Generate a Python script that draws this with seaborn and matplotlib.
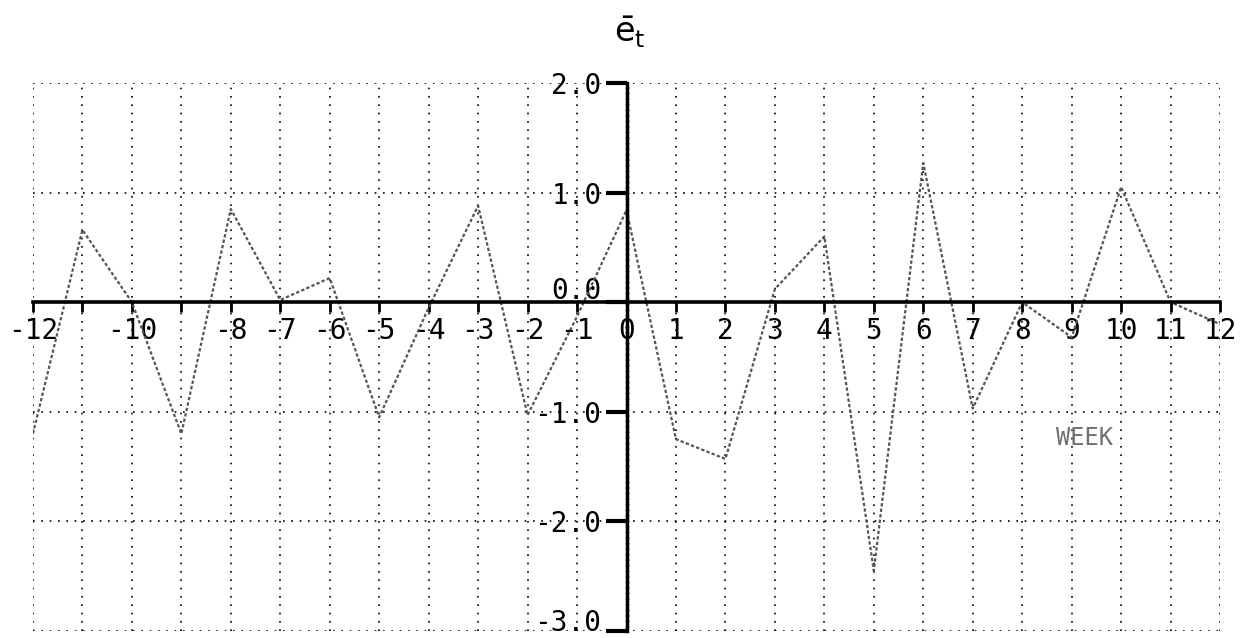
import matplotlib
matplotlib.use('Agg')
import matplotlib.pyplot as plt
from matplotlib.transforms import ScaledTranslation
import seaborn as sns
import pandas as pd

# ---- data ----
weeks = list(range(-12, 13))
e_bar = [-1.2, 0.66, 0.0, -1.2, 0.85, 0.02, 0.22, -1.05, -0.05, 0.88,
         -1.03, -0.13, 0.84, -1.25, -1.43, 0.12, 0.6, -2.45, 1.27, -0.97,
         0.0, -0.32, 1.05, 0.0, -0.2]
xtick_values = list(range(-12, 13))
xtick_labels = ['-12', '', '-10', '', '-8', '-7', '-6', '-5', '-4', '-3', '-2', '-1',
                '0', '1', '2', '3', '4', '5', '6', '7', '8', '9', '10', '11', '12']
ytick_values = [2.0, 1.0, 0.0, -1.0, -2.0, -3.0]
ytick_labels = ['2.0', '1.0', '0.0', '-1.0', '-2.0', '-3.0']
x_title = 'WEEK'
y_title = r'$\bar{\mathrm{e}}_{\mathrm{t}}$'

sns.set_theme(style='white')
plt.rcParams['font.family'] = ['DejaVu Sans Mono']

fig = plt.figure(figsize=(12.53, 6.38), dpi=100)
ax = fig.add_axes([0.0263, 0.011, 0.9474, 0.8589])

df = pd.DataFrame({'week': weeks, 'e': e_bar})
sns.lineplot(data=df, x='week', y='e', ax=ax, color='#555555', lw=1.6,
             linestyle=(0, (1.5, 1)))

ax.set_xlim(-12, 12)
ax.set_ylim(-3, 2)
ax.set_xticks(xtick_values)
ax.set_xticklabels(xtick_labels)
ax.set_yticks(ytick_values)
ax.set_yticklabels(ytick_labels)
ax.set_xlabel('')
ax.set_ylabel('')

ax.grid(True, color='black', linestyle=(0, (1, 4)), lw=1.2)
for s in ['top', 'right']:
    ax.spines[s].set_visible(False)
ax.spines['left'].set_position(('data', 0))
ax.spines['bottom'].set_position(('data', 0))
ax.spines['bottom'].set_linewidth(2.6)
ax.spines['bottom'].set_color('black')
ax.spines['left'].set_linewidth(2.5)
ax.spines['left'].set_color('black')
ax.spines['left'].set_linestyle((0, (1, 0.6)))

ax.tick_params(axis='x', bottom=True, direction='out', length=7, width=2, pad=4,
               labelsize=20, colors='black')
ax.tick_params(axis='y', left=True, direction='out', length=15, width=3, pad=3,
               labelsize=20, colors='black')

# the 0.0 label sits above the zero line in the reference
ylabs = ax.get_yticklabels()
ylabs[2].set_transform(ylabs[2].get_transform() + ScaledTranslation(0, 10 / 72, fig.dpi_scale_trans))
# keep the bottom label inside the picture
ylabs[5].set_transform(ylabs[5].get_transform() + ScaledTranslation(0, 8 / 72, fig.dpi_scale_trans))

ax.text(-0.26, 2.37, y_title, fontsize=24, color='black', clip_on=False)
ax.text(9.25, -1.24, x_title, fontsize=17, color='#707070', ha='center', va='center')

fig.savefig('out.png', dpi=100, facecolor='white')
